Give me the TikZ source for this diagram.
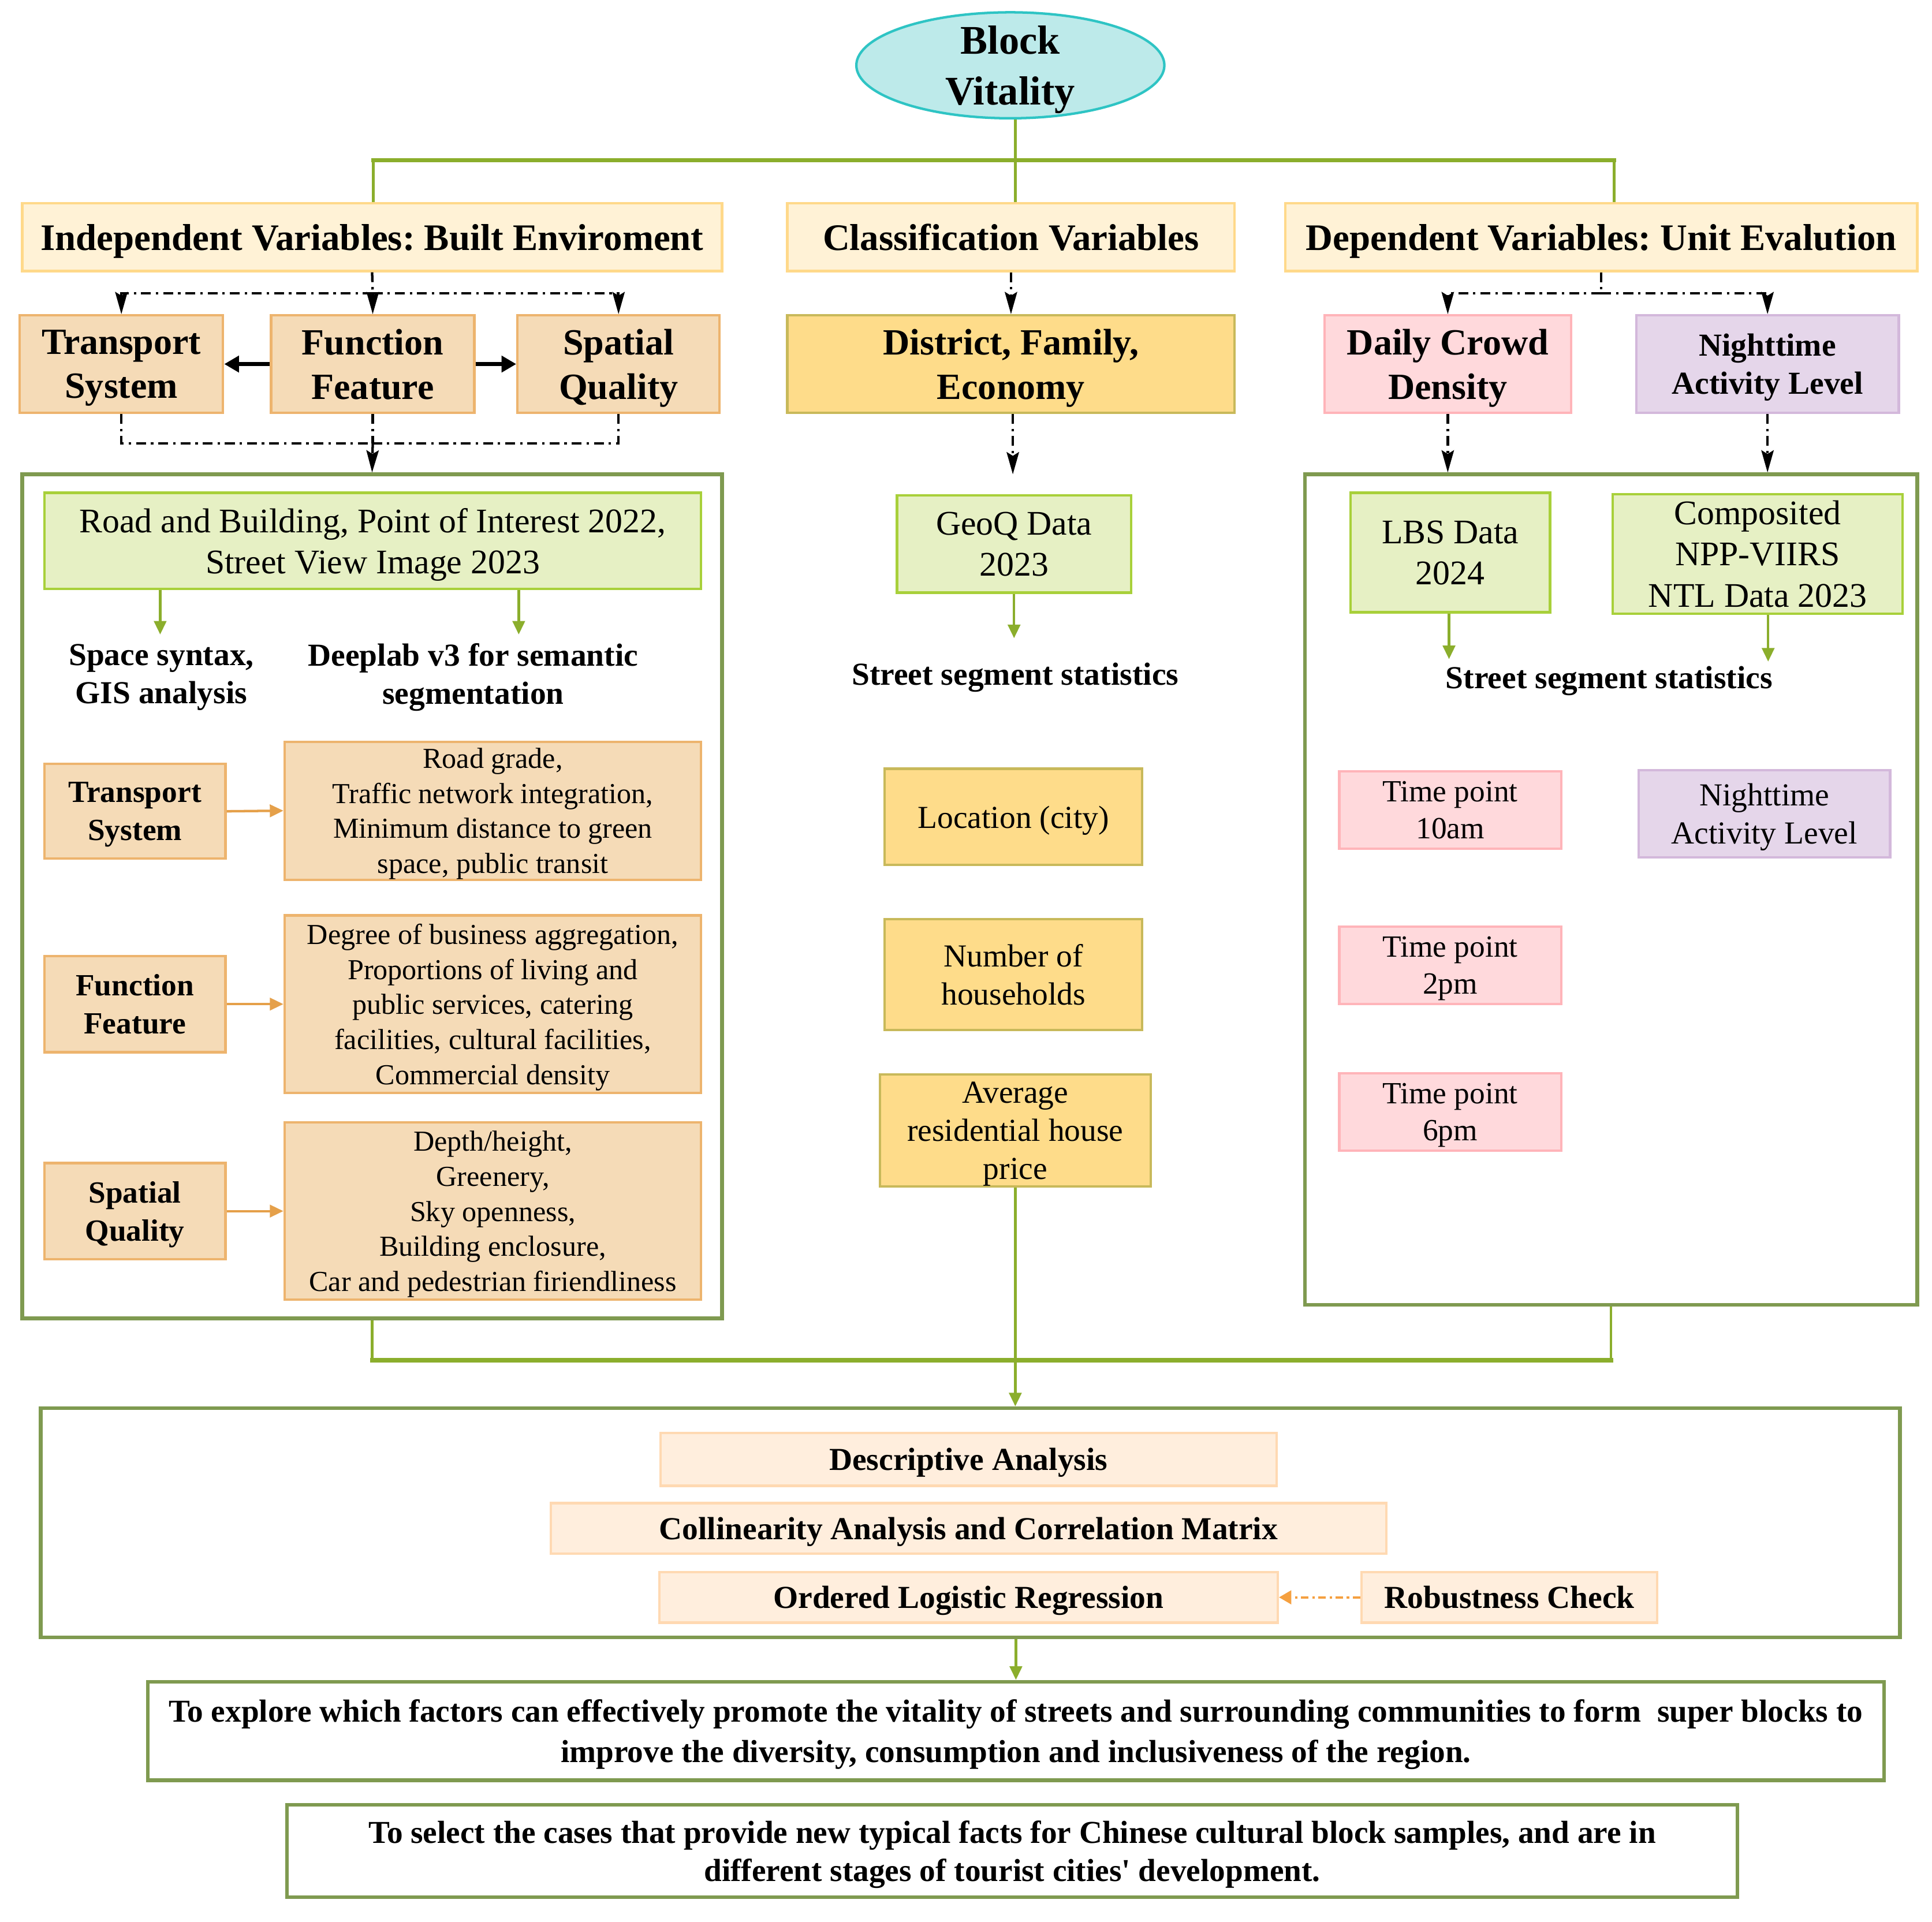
\documentclass[tikz,border=0pt]{standalone}
\usepackage{fontspec}
\setmainfont{Liberation Serif}
\usetikzlibrary{arrows.meta,shapes.geometric}
\newcommand{\myfs}[2]{\fontsize{#1}{#2}\selectfont}
\frenchspacing
\definecolor{cyanfill}{HTML}{BDEAEA}
\definecolor{cyandraw}{HTML}{2EC4C4}
\definecolor{hdrfill}{HTML}{FFF2D6}
\definecolor{hdrdraw}{HTML}{FFD98A}
\definecolor{peachfill}{HTML}{F5DBB7}
\definecolor{peachdraw}{HTML}{EDB46E}
\definecolor{goldfill}{HTML}{FEDC8A}
\definecolor{golddraw}{HTML}{C8B95A}
\definecolor{greenfill}{HTML}{E6F0C4}
\definecolor{greendraw}{HTML}{A8D03A}
\definecolor{pinkfill}{HTML}{FFD9DC}
\definecolor{pinkdraw}{HTML}{FFB4B9}
\definecolor{lavfill}{HTML}{E5D6EA}
\definecolor{lavdraw}{HTML}{D3B8DB}
\definecolor{anfill}{HTML}{FFEEDD}
\definecolor{andraw}{HTML}{FFD9B2}
\definecolor{olivebox}{HTML}{7F9A50}
\definecolor{treeg}{HTML}{8BAE2C}
\definecolor{orangearr}{HTML}{E5A04A}
\definecolor{orangedd}{HTML}{F5A040}
\tikzset{
  base/.style={draw, line width=2pt, align=center, inner sep=0pt, text depth=0pt, text=black},
  ell/.style={ellipse, draw=cyandraw, fill=cyanfill, line width=2pt, inner sep=0pt},
  hdr/.style={base, fill=hdrfill, draw=hdrdraw, font=\myfs{30.4}{36}\bfseries},
  peach/.style={base, fill=peachfill, draw=peachdraw},
  gold/.style={base, fill=goldfill, draw=golddraw},
  greenbox/.style={base, fill=greenfill, draw=greendraw},
  pinkbox/.style={base, fill=pinkfill, draw=pinkdraw},
  lavbox/.style={base, fill=lavfill, draw=lavdraw},
  anbox/.style={base, fill=anfill, draw=andraw, font=\myfs{26}{30}\bfseries},
  bigbox/.style={draw=olivebox, line width=3pt, fill=white, inner sep=0pt, text depth=0pt, align=center},
  plain/.style={align=center, inner sep=0pt, text depth=0pt},
  treev/.style={draw=treeg, line width=2.2pt},
  treeh/.style={draw=treeg, line width=3.5pt, line cap=rect},
  dd/.style={draw=black, line width=2pt, dash pattern=on 8pt off 4pt on 2pt off 4pt},
  ddarrow/.style={dd, -{Stealth[length=18pt,width=10pt,inset=3pt]}},
  blk/.style={draw=black, line width=3pt, -{Triangle[length=12pt,width=13pt]}},
  garrow/.style={draw=treeg, line width=2pt, -{Triangle[length=11pt,width=10pt]}},
  oarrow/.style={draw=orangearr, line width=2pt, -{Triangle[length=11pt,width=10pt]}},
  odd/.style={draw=orangedd, line width=2pt, dash pattern=on 6pt off 3pt on 2pt off 3pt, -{Triangle[length=10pt,width=11pt]}}
}
\begin{document}
\begin{tikzpicture}[x=1pt,y={(0pt,-1pt)}]
\fill[white] (0,0) rectangle (1568,1560);
\useasboundingbox (0,0) rectangle (1568,1560);

% big containers
\node[bigbox, minimum width=568pt, minimum height=685pt] (lbox) at (302,727.5) {};
\node[bigbox, minimum width=497pt, minimum height=674pt] (rbox) at (1307.5,722) {};
\node[bigbox, minimum width=1509pt, minimum height=186pt] (abox) at (787.5,1236) {};
\node[bigbox, minimum width=1409pt, minimum height=80pt, font=\myfs{25.9}{33}\bfseries] (c1) at (824.5,1405)
  {To explore which factors can effectively promote the vitality of streets and surrounding communities to form \ super blocks to\\improve the diversity, consumption and inclusiveness of the region.};
\node[bigbox, minimum width=1177pt, minimum height=75pt, font=\myfs{25.9}{31}\bfseries] (c2) at (821.5,1502.5)
  {To select the cases that provide new typical facts for Chinese cultural block samples, and are in\\different stages of tourist cities\textquotesingle\ development.};

% top
\node[ell, minimum width=250pt, minimum height=86pt] (bv) at (820,53) {};
\node[plain, font=\myfs{33}{41}\bfseries] (bvt) at (bv.center) {Block\\Vitality};
\node[hdr, minimum width=568pt, minimum height=55pt] (indep) at (302,192.5) {Independent Variables: Built Enviroment};
\node[hdr, minimum width=363pt, minimum height=55pt] (classv) at (820.5,192.5) {Classification Variables};
\node[hdr, minimum width=513pt, minimum height=55pt] (depv) at (1299.5,192.5) {Dependent Variables: Unit Evalution};

% level 2
\node[peach, minimum width=165pt, minimum height=79pt, font=\myfs{30}{36}\bfseries] (ts) at (98.5,295.5) {Transport\\System};
\node[peach, minimum width=165pt, minimum height=79pt, font=\myfs{30}{36}\bfseries] (ff) at (302.5,295.5) {Function\\Feature};
\node[peach, minimum width=164pt, minimum height=79pt, font=\myfs{30}{36}\bfseries] (sq) at (502,295.5) {Spatial\\Quality};
\node[gold, minimum width=363pt, minimum height=79pt, font=\myfs{30}{36}\bfseries] (dfe) at (820.5,295.5) {District, Family,\\Economy};
\node[pinkbox, minimum width=200pt, minimum height=79pt, font=\myfs{30}{36}\bfseries] (dcd) at (1175,295.5) {Daily Crowd\\Density};
\node[lavbox, minimum width=213pt, minimum height=79pt, font=\myfs{26}{31}\bfseries] (nal) at (1434.5,295.5) {Nighttime\\Activity Level};

% left container content
\node[greenbox, minimum width=533pt, minimum height=78pt, font=\myfs{28}{33}] (rbi) at (302.5,439) {Road and Building, Point of Interest 2022,\\Street View Image 2023};
\node[plain, font=\myfs{26}{31}\bfseries] (ss) at (131,547) {Space syntax,\\GIS analysis};
\node[plain, font=\myfs{26}{31}\bfseries] (dl) at (384,547) {Deeplab v3 for semantic\\segmentation};
\node[peach, minimum width=147pt, minimum height=77pt, font=\myfs{25}{31}\bfseries] (ts2) at (109.5,658.5) {Transport\\System};
\node[peach, minimum width=338pt, minimum height=112pt, font=\myfs{23.5}{28.5}] (tsd) at (400,658) {Road grade,\\Traffic network integration,\\Minimum distance to green\\space, public transit};
\node[peach, minimum width=147pt, minimum height=78pt, font=\myfs{25}{31}\bfseries] (ff2) at (109.5,815) {Function\\Feature};
\node[peach, minimum width=338pt, minimum height=144pt, font=\myfs{23.5}{28.5}] (ffd) at (400,815) {Degree of business aggregation,\\Proportions of living and\\public services, catering\\facilities, cultural facilities,\\Commercial density};
\node[peach, minimum width=147pt, minimum height=78pt, font=\myfs{25}{31}\bfseries] (sq2) at (109.5,983) {Spatial\\Quality};
\node[peach, minimum width=338pt, minimum height=144pt, font=\myfs{23.5}{28.5}] (sqd) at (400,983) {Depth/height,\\Greenery,\\Sky openness,\\Building enclosure,\\Car and pedestrian firiendliness};

% middle column
\node[greenbox, minimum width=190pt, minimum height=79pt, font=\myfs{28}{33}] (geoq) at (823,441.5) {GeoQ Data\\2023};
\node[plain, font=\myfs{26}{31}\bfseries] (sss1) at (824,547) {Street segment statistics};
\node[gold, minimum width=209pt, minimum height=78pt, font=\myfs{26}{31}] (loc) at (822.5,663) {Location (city)};
\node[gold, minimum width=209pt, minimum height=90pt, font=\myfs{26}{31}] (noh) at (822.5,791) {Number of\\households};
\node[gold, minimum width=220pt, minimum height=91pt, font=\myfs{26}{31}] (arp) at (824,917.5) {Average\\residential house\\price};

% right container content
\node[greenbox, minimum width=162pt, minimum height=97pt, font=\myfs{28}{33}] (lbs) at (1177,448.5) {LBS Data\\2024};
\node[greenbox, minimum width=235pt, minimum height=97pt, font=\myfs{28}{33.5}] (ntl) at (1426.5,449.5) {Composited\\NPP-VIIRS\\NTL Data 2023};
\node[plain, font=\myfs{26}{31}\bfseries] (sss2) at (1306,550) {Street segment statistics};
\node[pinkbox, minimum width=180pt, minimum height=63pt, font=\myfs{25}{30}] (t10) at (1177,657.5) {Time point\\10am};
\node[lavbox, minimum width=204pt, minimum height=71pt, font=\myfs{26}{31}] (nal2) at (1432,660.5) {Nighttime\\Activity Level};
\node[pinkbox, minimum width=180pt, minimum height=63pt, font=\myfs{25}{30}] (t2) at (1177,783.5) {Time point\\2pm};
\node[pinkbox, minimum width=180pt, minimum height=63pt, font=\myfs{25}{30}] (t6) at (1177,902.5) {Time point\\6pm};

% analysis
\node[anbox, minimum width=500pt, minimum height=43pt] (da) at (786,1184.5) {Descriptive Analysis};
\node[anbox, minimum width=678pt, minimum height=41pt] (cam) at (786,1240.5) {Collinearity Analysis and Correlation Matrix};
\node[anbox, minimum width=502pt, minimum height=41pt] (olr) at (786,1296.5) {Ordered Logistic Regression};
\node[anbox, minimum width=240pt, minimum height=41pt] (rc) at (1225,1296.5) {Robustness Check};

% tree from Block Vitality
\coordinate (tl) at (303,130);
\coordinate (tm) at (824,130);
\coordinate (tr) at (1310,130);
\draw[treev] (tm |- bv.south) -- (tm |- classv.north);
\draw[treeh] (tl) -- (tr);
\draw[treev] (tl) -- (tl |- indep.north);
\draw[treev] (tr) -- (tr |- depv.north);

% dash-dot connectors, left
\coordinate (j1) at (302.5,238);
\draw[dd] (indep.south) -- (j1);
\draw[ddarrow] (j1) -| (ts.north);
\draw[ddarrow] (j1) -| (sq.north);
\draw[ddarrow] (j1) -- (ff.north);
\draw[blk] (ff.west) -- (ts.east);
\draw[blk] (ff.east) -- (sq.west);
\coordinate (j2) at (302.5,360);
\draw[dd] (ts.south) |- (j2);
\draw[dd] (sq.south) |- (j2);
\draw[dd] (ff.south) -- (j2);
\draw[ddarrow] (j2) -- (lbox.north);

% middle
\draw[ddarrow] (classv.south) -- (dfe.north);
\coordinate (m1) at (822,385);
\draw[ddarrow] (dfe.south -| m1) -- (m1);

% right
\coordinate (j3) at (1299.5,238);
\draw[dd] (depv.south) -- (j3);
\draw[ddarrow] (j3) -| (dcd.north);
\draw[ddarrow] (j3) -| (nal.north);
\draw[ddarrow] (dcd.south) -- (dcd.south |- rbox.north);
\draw[ddarrow] (nal.south) -- (nal.south |- rbox.north);

% green arrows inside
\coordinate (g1) at (130,515);
\coordinate (g2) at (421,515);
\coordinate (g3) at (823,518);
\coordinate (g4) at (1176,535);
\coordinate (g5) at (1435,537);
\draw[garrow] (rbi.south -| g1) -- (g1);
\draw[garrow] (rbi.south -| g2) -- (g2);
\draw[garrow] (geoq.south -| g3) -- (g3);
\draw[garrow] (lbs.south -| g4) -- (g4);
\draw[garrow] (ntl.south -| g5) -- (g5);

% orange arrows
\draw[oarrow] (ts2.east) -- (tsd.west);
\draw[oarrow] (ff2.east) -- (ffd.west);
\draw[oarrow] (sq2.east) -- (sqd.west);

% bottom tree
\coordinate (bj) at (302,1104);
\coordinate (bk) at (1307.5,1104);
\draw[treev] (lbox.south) -- (bj);
\draw[treeh] (bj) -- (bk);
\draw[treev] (bk) -- (rbox.south);
\draw[garrow] (arp.south) -- (arp.south |- abox.north);

% analysis connectors
\draw[odd] (rc.west) -- (olr.east);
\draw[garrow] (c1.north |- abox.south) -- (c1.north);
\end{tikzpicture}
\end{document}
